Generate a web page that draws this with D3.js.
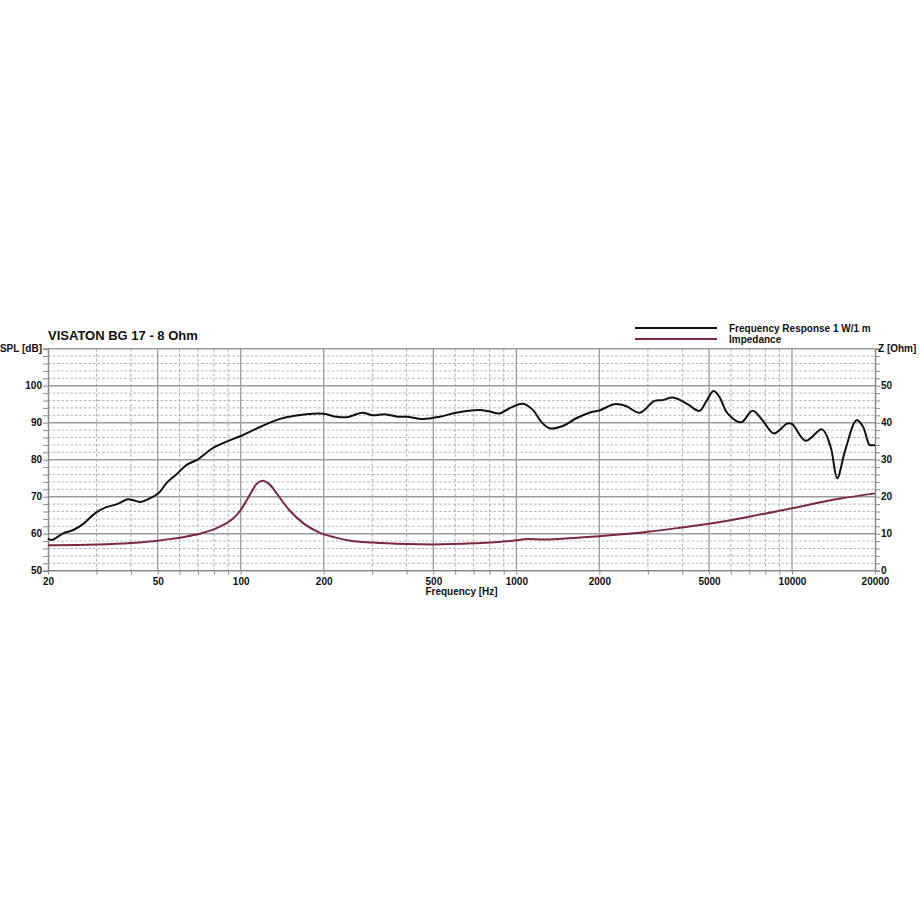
<!DOCTYPE html>
<html><head><meta charset="utf-8">
<script src="https://cdn.jsdelivr.net/npm/d3@7"></script>
<style>
body{margin:0;background:#fff;}
svg text{font-family:"Liberation Sans",Arial,sans-serif;font-weight:bold;fill:#111;}
</style></head>
<body><svg id="c" width="920" height="920"></svg>
<script>
// ---- data ----
const splFreq = [20,20.6,22.7,24.7,27,29.6,32.4,35.6,38.9,40.6,43.3,47,50.3,54,58.6,63.7,70,79,89,100,118,137,155,173,200,223,243,259,276,303,333,372,400,459,527,605,735,800,870,945,1057,1150,1230,1320,1475,1650,1840,2000,2270,2500,2800,3170,3400,3700,4180,4610,4880,5190,5450,5840,6530,7190,7810,8600,9610,10020,11200,12850,13800,14580,15600,17150,18100,19100,19600,20000];
const splValues = [58.7,58.3,60.1,61.0,62.8,65.5,67.1,68.0,69.3,69.1,68.6,69.6,70.9,73.8,76.1,78.6,80.1,83.1,84.9,86.4,88.9,90.9,91.8,92.3,92.4,91.6,91.5,92.1,92.7,92.0,92.3,91.6,91.6,91.0,91.6,92.7,93.4,93.0,92.5,93.9,95.1,93.4,90.3,88.5,89.1,91.2,92.7,93.3,95.0,94.5,92.7,95.9,96.1,96.8,95.0,93.2,95.7,98.6,97.0,92.5,90.1,93.2,90.7,87.1,89.8,89.6,85.1,88.2,83.5,75.0,82.6,90.7,88.9,84.0,83.9,84.0];
const zFreq = [20,30,40,50,56,63,71,78,84,90,94.5,100,108,114,120,127,135,150,169,193,220,250,300,400,500,700,1000,1100,1250,1500,2000,3000,4000,5000,7000,10000,15000,20000];
const zValues = [6.9,7.1,7.5,8.1,8.6,9.2,10.0,10.9,11.9,13.1,14.3,16.4,20.5,23.4,24.3,23.4,20.9,16.4,12.8,10.3,9.0,8.1,7.6,7.2,7.1,7.4,8.2,8.6,8.4,8.7,9.3,10.5,11.7,12.7,14.6,16.9,19.5,20.9];
const xTickLabels = [20,50,100,200,500,1000,2000,5000,10000,20000];
const xMinorTicks = [30,40,60,70,80,90,300,400,600,700,800,900,3000,4000,6000,7000,8000,9000];
const splTickLabels = [50,60,70,80,90,100];
const zTickLabels = [0,10,20,30,40,50];
const title = "VISATON BG 17 - 8 Ohm";
const seriesNames = ["Frequency Response 1 W/1 m","Impedance"];
const seriesColors = ["#111111","#7a2a3a"];

// ---- scales ----
const L=48, R=875, T=348.7, B=570.7;
const x = d3.scaleLog().domain([20,20000]).range([L,R]);
const yS = d3.scaleLinear().domain([50,110]).range([B,T]);
const yZ = d3.scaleLinear().domain([0,60]).range([B,T]);
const svg = d3.select("#c");

// grid
const g = svg.append("g");
const minorH = d3.range(52,110,2).filter(v=>v%10!==0);
g.selectAll(".hm").data(minorH).join("line")
 .attr("x1",L).attr("x2",R).attr("y1",d=>yS(d)).attr("y2",d=>yS(d))
 .attr("stroke","#b4b4b4").attr("stroke-width",1).attr("stroke-dasharray","2.5,2");
g.selectAll(".vm").data(xMinorTicks).join("line")
 .attr("x1",d=>x(d)).attr("x2",d=>x(d)).attr("y1",T).attr("y2",B)
 .attr("stroke","#adadad").attr("stroke-width",1).attr("stroke-dasharray","3,2");
g.selectAll(".vM").data(xTickLabels.slice(1,-1)).join("line")
 .attr("x1",d=>x(d)).attr("x2",d=>x(d)).attr("y1",T).attr("y2",B)
 .attr("stroke","#9c9c9c").attr("stroke-width",1.3);
g.selectAll(".hM").data(d3.range(60,111,10)).join("line")
 .attr("x1",L).attr("x2",R).attr("y1",d=>yS(d)).attr("y2",d=>yS(d))
 .attr("stroke","#9c9c9c").attr("stroke-width",1.5);

// axes
const fmt = d3.format("d");
const ax = svg.append("g").attr("transform",`translate(0,${B})`)
 .call(d3.axisBottom(x).tickValues(xTickLabels.concat(xMinorTicks)).tickSize(4).tickPadding(3)
   .tickFormat(d=>xTickLabels.includes(d)?fmt(d):""));
const axl = svg.append("g").attr("transform",`translate(${L},0)`)
 .call(d3.axisLeft(yS).tickValues(d3.range(50,111,2)).tickSize(5).tickPadding(1)
   .tickFormat(d=>splTickLabels.includes(d)?fmt(d):""));
const axr = svg.append("g").attr("transform",`translate(${R},0)`)
 .call(d3.axisRight(yZ).tickValues(d3.range(0,61,2)).tickSize(5).tickPadding(1)
   .tickFormat(d=>zTickLabels.includes(d)?fmt(d):""));
[ax,axl,axr].forEach(a=>{
  a.selectAll("path").attr("stroke","#8a8a8a").attr("stroke-width",1.5);
  a.selectAll("line").attr("stroke","#8a8a8a").attr("stroke-width",1);
  a.selectAll("text").attr("font-size",10).attr("font-family","Liberation Sans, Arial, sans-serif").attr("font-weight","bold").attr("fill","#111");
});
ax.select(".domain").remove();
svg.append("line").attr("x1",L).attr("x2",R).attr("y1",B).attr("y2",B).attr("stroke","#8a8a8a").attr("stroke-width",1.5);

// curves
const line = (fs,vs,ys,curve)=>d3.line().curve(curve)
  .x((d,i)=>x(fs[i])).y((d,i)=>ys(vs[i]))(vs);
svg.append("path").attr("d",line(zFreq,zValues,yZ,d3.curveMonotoneX)).attr("fill","none")
  .attr("stroke",seriesColors[1]).attr("stroke-width",2);
svg.append("path").attr("d",line(splFreq,splValues,yS,d3.curveCatmullRom.alpha(0.5))).attr("fill","none")
  .attr("stroke",seriesColors[0]).attr("stroke-width",2);

// labels
svg.append("text").attr("x",48).attr("y",340).attr("font-size",13).text(title);
svg.append("text").attr("x",42).attr("y",352).attr("font-size",10).attr("text-anchor","end").text("SPL [dB]");
svg.append("text").attr("x",878).attr("y",352).attr("font-size",10).text("Z [Ohm]");
svg.append("text").attr("x",(L+R)/2).attr("y",595).attr("font-size",10).attr("text-anchor","middle").text("Frequency [Hz]");

// legend
seriesNames.forEach((n,i)=>{
  const yy = 328 + i*11;
  svg.append("line").attr("x1",635).attr("x2",717).attr("y1",yy).attr("y2",yy)
    .attr("stroke",seriesColors[i]).attr("stroke-width",2);
  svg.append("text").attr("x",729).attr("y",yy+3.5).attr("font-size",10).text(n);
});
</script></body></html>
